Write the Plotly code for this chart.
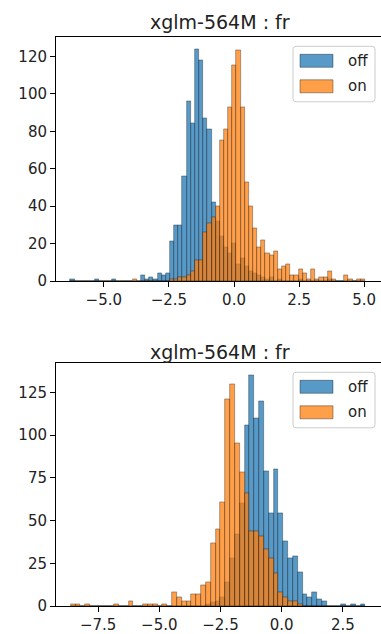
import numpy as np
import plotly.graph_objects as go

# ---------------- data ----------------
title_text = "xglm-564M : fr"
series_names = ["off", "on"]

# top panel: 71 common bins
top_bin_min, top_bin_max, top_nbins = -6.281, 5.03, 71
top_off = [1, 0, 0, 0, 0, 0, 1, 0, 0, 0, 1, 0, 0, 0, 0, 0, 0, 3, 1, 2,
           1, 4, 3, 4, 21, 30, 30, 56, 96, 84, 124, 118, 87, 81, 42, 32, 24, 18, 15, 20,
           9, 12, 8, 5, 4, 3, 2, 1, 2, 0, 1, 0, 0, 0, 0, 1, 0, 0, 0, 0,
           0, 0, 1, 0, 0, 0, 0, 0, 0, 0, 0]
top_on = [0, 0, 0, 0, 0, 0, 0, 0, 0, 0, 0, 0, 0, 0, 0, 1, 0, 0, 0, 0,
          0, 0, 0, 0, 1, 1, 2, 2, 3, 5, 11, 11, 26, 31, 34, 40, 75, 81, 93, 115,
          123, 93, 53, 40, 28, 18, 22, 15, 14, 16, 6, 8, 9, 3, 3, 6, 4, 1, 6, 1,
          2, 2, 5, 1, 0, 0, 3, 1, 0, 1, 1]

# bottom panel: 61 common bins
bot_bin_min, bot_bin_max, bot_nbins = -8.62, 3.42, 61
bot_off = [0, 0, 0, 0, 0, 0, 0, 0, 0, 0, 0, 0, 0, 0, 0, 0, 0, 0, 0, 0,
           0, 0, 0, 0, 0, 0, 0, 0, 1, 2, 3, 5, 14, 28, 42, 60, 106, 135, 110, 120,
           79, 54, 80, 54, 38, 28, 29, 20, 7, 5, 8, 4, 3, 0, 0, 0, 1, 0, 1, 0,
           1]
bot_on = [1, 1, 0, 1, 0, 0, 0, 0, 0, 1, 0, 0, 3, 0, 0, 1, 1, 1, 0, 1,
          0, 8, 5, 3, 3, 7, 7, 12, 14, 37, 45, 61, 121, 130, 95, 78, 66, 44, 44, 41,
          33, 28, 19, 8, 5, 3, 3, 1, 0, 0, 0, 0, 0, 0, 0, 0, 0, 0, 0, 0,
          0]

top_xticks = [-5.0, -2.5, 0.0, 2.5, 5.0]
top_yticks = [0, 20, 40, 60, 80, 100, 120]
bot_xticks = [-7.5, -5.0, -2.5, 0.0, 2.5]
bot_yticks = [0, 25, 50, 75, 100, 125]

# ---------------- figure ----------------
W, H = 381, 634
FONT = "DejaVu Sans"
fill = {"off": "rgba(31,119,180,0.75)", "on": "rgba(255,127,14,0.75)"}
edge = "rgba(0,0,0,0.45)"

fig = go.Figure()


def add_hist(counts, name, lo, hi, n, xa, ya):
    edges = np.linspace(lo, hi, n + 1)
    centers = (edges[:-1] + edges[1:]) / 2
    width = edges[1] - edges[0]
    fig.add_trace(go.Bar(
        x=centers, y=counts, width=width, name=name, showlegend=False,
        marker=dict(color=fill[name], line=dict(color=edge, width=0.7)),
        xaxis=xa, yaxis=ya, hoverinfo="skip"))


add_hist(top_off, "off", top_bin_min, top_bin_max, top_nbins, "x", "y")
add_hist(top_on, "on", top_bin_min, top_bin_max, top_nbins, "x", "y")
add_hist(bot_off, "off", bot_bin_min, bot_bin_max, bot_nbins, "x2", "y2")
add_hist(bot_on, "on", bot_bin_min, bot_bin_max, bot_nbins, "x2", "y2")

# pixel geometry
L, R = 56, 381
top_t, top_b = 37.3, 281
bot_t, bot_b = 363.3, 606


def py(p):
    return 1 - p / H


def px(p):
    return p / W


axis_common = dict(showline=True, linecolor="black", linewidth=1, ticks="outside",
                   ticklen=5, tickwidth=1, tickcolor="black", showgrid=False,
                   zeroline=False, tickfont=dict(family=FONT, size=15, color="#222"),
                   automargin=False)

fig.update_layout(
    width=W, height=H, margin=dict(l=0, r=0, t=0, b=0),
    paper_bgcolor="white", plot_bgcolor="white",
    barmode="overlay", bargap=0, showlegend=False,
    xaxis=dict(domain=[px(L), 1], anchor="y", range=[-6.836, 5.645],
               tickvals=top_xticks, tickformat=".1f", mirror=True, **axis_common),
    yaxis=dict(domain=[py(top_b), py(top_t)], anchor="x", range=[0, 130.2],
               tickvals=top_yticks, mirror=False, **axis_common),
    xaxis2=dict(domain=[px(L), 1], anchor="y2", range=[-9.22, 4.058],
                tickvals=bot_xticks, tickformat=".1f", mirror=True, **axis_common),
    yaxis2=dict(domain=[py(bot_b), py(bot_t)], anchor="x2", range=[0, 142.1],
                tickvals=bot_yticks, mirror=False, **axis_common),
)

# titles
for yc in (22, 352):
    fig.add_annotation(text=title_text, xref="paper", yref="paper",
                       x=px(220), y=py(yc), xanchor="center", yanchor="middle",
                       showarrow=False, font=dict(family=FONT, size=19, color="#222"))


def rounded_rect_path(x0, y0, x1, y1, r):
    # pixel coords (top-left origin) -> paper coords path with rounded corners
    pts = []
    pts.append(f"M {px(x0 + r)},{py(y0)}")
    pts.append(f"L {px(x1 - r)},{py(y0)}")
    pts.append(f"Q {px(x1)},{py(y0)} {px(x1)},{py(y0 + r)}")
    pts.append(f"L {px(x1)},{py(y1 - r)}")
    pts.append(f"Q {px(x1)},{py(y1)} {px(x1 - r)},{py(y1)}")
    pts.append(f"L {px(x0 + r)},{py(y1)}")
    pts.append(f"Q {px(x0)},{py(y1)} {px(x0)},{py(y1 - r)}")
    pts.append(f"L {px(x0)},{py(y0 + r)}")
    pts.append(f"Q {px(x0)},{py(y0)} {px(x0 + r)},{py(y0)} Z")
    return " ".join(pts)


# legends (matplotlib style)
shapes = []
for top in (top_t, bot_t):
    bx0, bx1 = 293, 375
    by0, by1 = top + 9, top + 64.5
    shapes.append(dict(type="path", xref="paper", yref="paper",
                       path=rounded_rect_path(bx0, by0, bx1, by1, 3),
                       line=dict(color="#cccccc", width=1),
                       fillcolor="rgba(255,255,255,0.8)", layer="above"))
    for i, name in enumerate(series_names):
        cy = top + 23.5 + i * 25.5
        shapes.append(dict(type="rect", xref="paper", yref="paper",
                           x0=px(300), x1=px(333), y0=py(cy + 6.5), y1=py(cy - 6.5),
                           line=dict(color=edge, width=0.8),
                           fillcolor=fill[name], layer="above"))
        fig.add_annotation(text=name, xref="paper", yref="paper",
                           x=px(346), y=py(cy), xanchor="left", yanchor="middle",
                           showarrow=False,
                           font=dict(family=FONT, size=15, color="#222"))
fig.update_layout(shapes=shapes)

fig.write_html("out.html", config={"displayModeBar": False},
               post_script="document.body.style.margin='0';")
